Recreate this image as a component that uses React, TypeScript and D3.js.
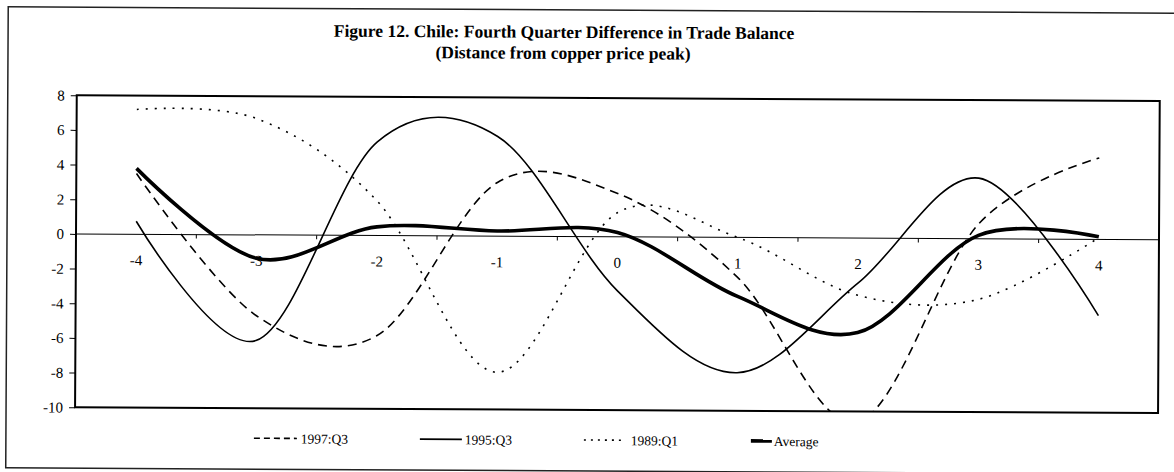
import React, { useEffect, useRef } from 'react';
import * as d3 from 'd3';

// quarters relative to copper price peak
const quarters = ['-4', '-3', '-2', '-1', '0', '1', '2', '3', '4'];
const yTicks = [8, 6, 4, 2, 0, -2, -4, -6, -8, -10];

// values
const q1997 = [3.5, -4.65, -5.8, 3.1, 2.5, -2.3, -10.6, 0.85, 4.7];
const q1995 = [0.75, -6.1, 5.4, 5.75, -3.1, -7.8, -2.6, 3.5, -4.4];
const q1989 = [7.2, 6.7, 2.0, -7.85, 1.4, 0.0, -3.3, -3.5, 0.1];
const average = [3.8, -1.35, 0.5, 0.3, 0.25, -3.4, -5.45, 0.2, 0.15];

const W = 1174;
const H = 472;
const FONT = '"Liberation Serif", "Times New Roman", serif';

const App: React.FC = () => {
  const svgRef = useRef<SVGSVGElement>(null);

  useEffect(() => {
    if (!svgRef.current) return;
    const svg = d3.select(svgRef.current);
    svg.selectAll('*').remove();

    const plot = { left: 76, right: 1159, top: 98, bottom: 410 };

    const x = d3.scaleBand<string>()
      .domain(quarters)
      .range([plot.left, plot.right]);

    const y = d3.scaleLinear()
      .domain([-10, 8])
      .range([plot.bottom, plot.top]);

    // the scan is slightly tilted
    const root = svg.append('g').attr('transform', 'rotate(0.31, 587, 236)');

    // outer frame
    root.append('rect')
      .attr('x', 7).attr('y', 10)
      .attr('width', 1190).attr('height', 461)
      .attr('fill', 'none')
      .attr('stroke', '#222')
      .attr('stroke-width', 1.5);

    // title
    root.append('text')
      .attr('x', 563).attr('y', 38)
      .attr('text-anchor', 'middle')
      .attr('font-family', FONT)
      .attr('font-weight', 'bold')
      .attr('font-size', 17.5)
      .text('Figure 12. Chile: Fourth Quarter Difference in Trade Balance');

    root.append('text')
      .attr('x', 562).attr('y', 59)
      .attr('text-anchor', 'middle')
      .attr('font-family', FONT)
      .attr('font-weight', 'bold')
      .attr('font-size', 17.5)
      .text('(Distance from copper price peak)');

    // plot frame
    root.append('rect')
      .attr('x', plot.left).attr('y', plot.top)
      .attr('width', plot.right - plot.left)
      .attr('height', plot.bottom - plot.top)
      .attr('fill', 'none')
      .attr('stroke', '#000')
      .attr('stroke-width', 2);

    // y axis
    const yAxis = root.append('g')
      .attr('transform', `translate(${plot.left},0)`)
      .call(d3.axisLeft(y).tickValues(yTicks).tickSize(6).tickPadding(6).tickFormat(d => String(d)));
    yAxis.attr('font-family', FONT).attr('font-size', 15);
    yAxis.select('.domain').remove();
    yAxis.selectAll('line').attr('stroke', '#000');
    yAxis.selectAll('text').attr('fill', '#000');

    // zero line with category ticks
    root.append('line')
      .attr('x1', plot.left).attr('x2', plot.right)
      .attr('y1', y(0)).attr('y2', y(0))
      .attr('stroke', '#000')
      .attr('stroke-width', 1);

    const boundaries = quarters.slice(1).map(q => x(q) as number);
    root.append('g')
      .selectAll('line')
      .data(boundaries)
      .join('line')
      .attr('x1', d => d).attr('x2', d => d)
      .attr('y1', y(0)).attr('y2', y(0) + 4)
      .attr('stroke', '#000');

    root.append('g')
      .attr('font-family', FONT)
      .attr('font-size', 15)
      .selectAll('text')
      .data(quarters)
      .join('text')
      .attr('x', d => (x(d) as number) + x.bandwidth() / 2)
      .attr('y', y(0) + 31)
      .attr('text-anchor', 'middle')
      .attr('fill', '#000')
      .text(d => d);

    // clip for series
    svg.append('defs').append('clipPath')
      .attr('id', 'plot-clip')
      .append('rect')
      .attr('x', plot.left).attr('y', plot.top)
      .attr('width', plot.right - plot.left)
      .attr('height', plot.bottom - plot.top);

    const line = d3.line<number>()
      .x((_, i) => (x(quarters[i]) as number) + x.bandwidth() / 2)
      .y(d => y(d))
      .curve(d3.curveCardinal.tension(0));

    const series = [
      { name: '1997:Q3', values: q1997, width: 1.6, dash: '9,6' },
      { name: '1995:Q3', values: q1995, width: 1.6, dash: null },
      { name: '1989:Q1', values: q1989, width: 1.6, dash: '2,7' },
      { name: 'Average', values: average, width: 3.6, dash: null },
    ];

    const lines = root.append('g').attr('clip-path', 'url(#plot-clip)');
    series.forEach(s => {
      lines.append('path')
        .datum(s.values)
        .attr('fill', 'none')
        .attr('stroke', '#000')
        .attr('stroke-width', s.width)
        .attr('stroke-dasharray', s.dash)
        .attr('d', line);
    });

    // legend
    const legendPos = [
      { x1: 255, x2: 298, tx: 302 },
      { x1: 421, x2: 463, tx: 466 },
      { x1: 585, x2: 626, tx: 632 },
      { x1: 752, x2: 773, tx: 775 },
    ];
    const legend = root.append('g');
    series.forEach((s, i) => {
      const p = legendPos[i];
      legend.append('line')
        .attr('x1', p.x1).attr('x2', p.x2)
        .attr('y1', 440).attr('y2', 440)
        .attr('stroke', '#000')
        .attr('stroke-width', s.width)
        .attr('stroke-dasharray', s.dash ? (i === 0 ? '6,4' : '2,5') : null);
      legend.append('text')
        .attr('x', p.tx).attr('y', 445)
        .attr('font-family', FONT)
        .attr('font-size', 13.5)
        .text(s.name);
    });
  }, []);

  return (
    <div style={{ position: 'fixed', left: 0, top: 0, width: W, height: H, background: '#fff' }}>
      <svg ref={svgRef} width={W} height={H} />
    </div>
  );
};

export default App;
